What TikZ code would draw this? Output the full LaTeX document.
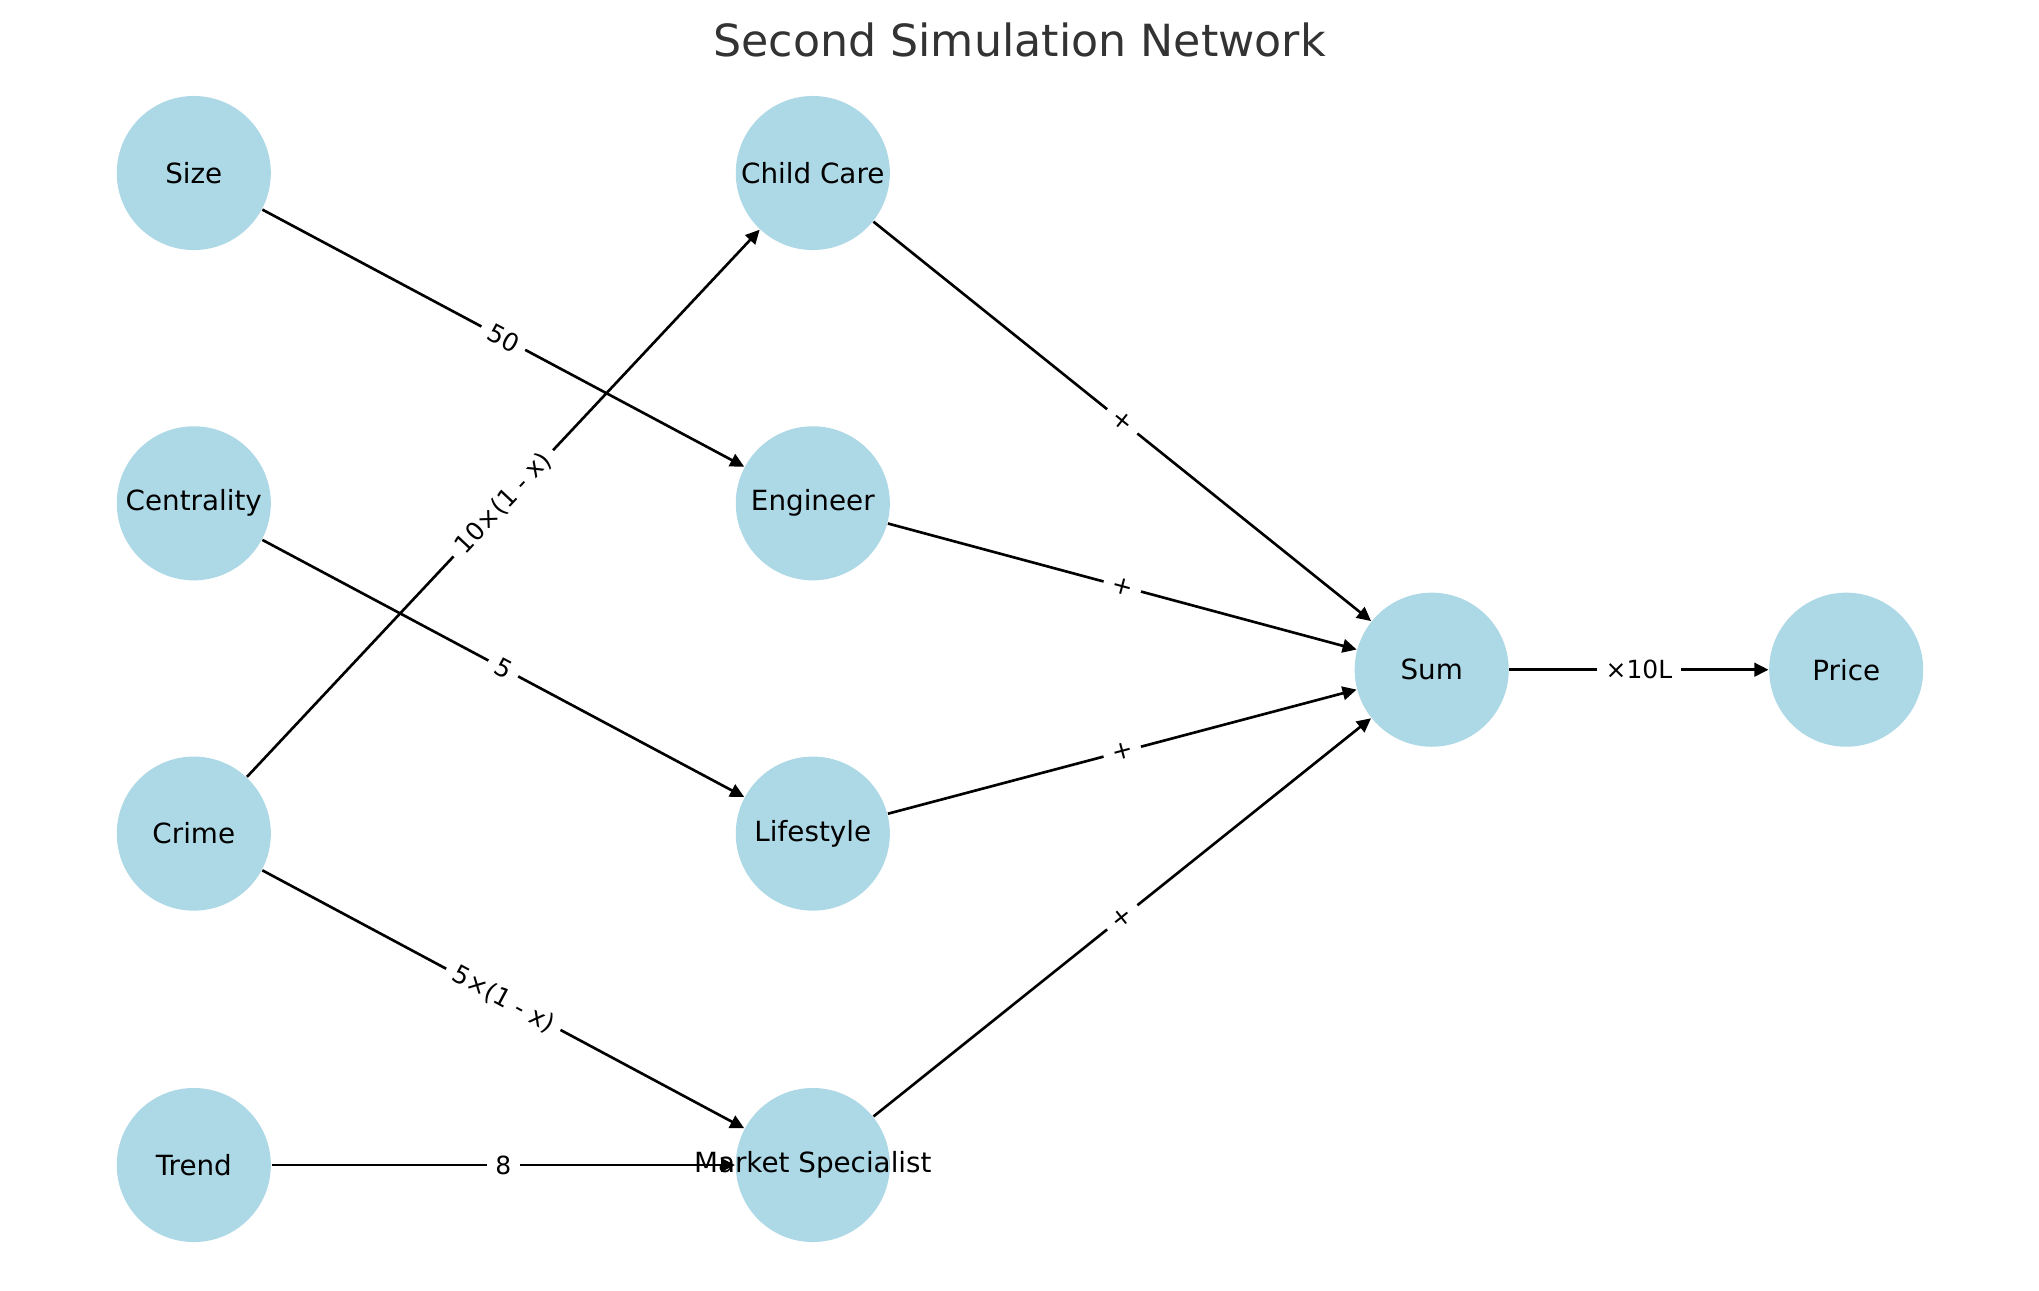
\documentclass[tikz,border=0pt]{standalone}
\usepackage{fontspec}
\setmainfont{DejaVu Sans}
\usetikzlibrary{arrows.meta}
\definecolor{lightblue}{HTML}{ADD8E6}
\definecolor{titlegray}{HTML}{333333}
\begin{document}
\begin{tikzpicture}[x=0.01cm, y=-0.01cm,
  nd/.style={circle, fill=lightblue, minimum size=1.54cm, inner sep=0pt, font=\fontsize{7.9}{9.5}\selectfont},
  ed/.style={-{Triangle[length=1.4mm, width=1.35mm]}, line width=0.75pt},
  lbl/.style={midway, sloped, fill=white, inner sep=2.5pt, font=\fontsize{7.1}{8.5}\selectfont}]
\useasboundingbox (0,0) rectangle (2039,1290);
\node[text=titlegray, font=\fontsize{12.6}{15}\selectfont] (title) at (1019.5,40){Second Simulation Network};
% inputs
\node[nd] (size) at (193.8,173){Size};
\node[nd] (centrality) at (193.8,503.3){Centrality};
\node[nd] (crime) at (193.8,833.6){Crime};
\node[nd] (trend) at (193.8,1165){Trend};
% specialists
\node[nd] (childcare) at (812.8,173){Child Care};
\node[nd] (engineer) at (812.8,503.3){Engineer};
\node[nd] (lifestyle) at (812.8,833.6){Lifestyle};
\node[nd] (market) at (812.8,1165){\makebox[0pt]{Market Specialist}};
% output
\node[nd] (sum) at (1431.7,669.7){Sum};
\node[nd] (price) at (1846.2,669.7){Price};
\draw[ed](size) -- node[lbl]{50} (engineer);
\draw[ed](crime) -- node[lbl]{10×(1 - x)} (childcare);
\draw[ed](centrality) -- node[lbl]{5} (lifestyle);
\draw[ed](crime) -- node[lbl]{5×(1 - x)} (market);
\draw[ed](trend) -- node[lbl]{8} (market);
\draw[ed](childcare) -- node[lbl]{+} (sum);
\draw[ed](engineer) -- node[lbl]{+} (sum);
\draw[ed](lifestyle) -- node[lbl]{+} (sum);
\draw[ed](market) -- node[lbl]{+} (sum);
\draw[ed](sum) -- node[lbl]{×10L} (price);
\end{tikzpicture}
\end{document}
